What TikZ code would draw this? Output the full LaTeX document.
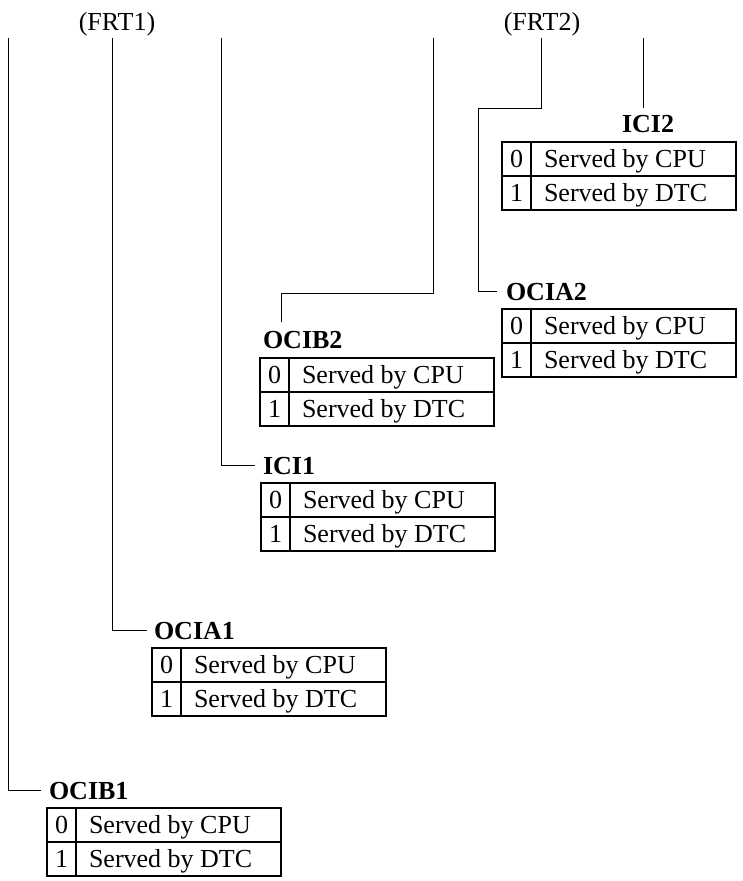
\documentclass[tikz,border=0pt]{standalone}
\usepackage{fontspec}
\setmainfont{Liberation Serif}
\newcommand\bigfont{\fontsize{26}{30}\selectfont}
\newcommand\srvtab[3]{%
  \node[tabbox] (#1) at (#2,#3) {};
  \draw[tabline] ([xshift=29pt]#1.north west) -- ([xshift=29pt]#1.south west);
  \draw[tabline] (#1.west) -- (#1.east);
  \node[cell, anchor=base] (#1d0) at ([xshift=14.5pt,yshift=-25pt]#1.north west) {0};
  \node[cell, anchor=base] (#1d1) at ([xshift=14.5pt,yshift=-59pt]#1.north west) {1};
  \node[cell, anchor=base west] (#1s0) at ([xshift=42pt,yshift=-25pt]#1.north west) {Served by CPU};
  \node[cell, anchor=base west] (#1s1) at ([xshift=42pt,yshift=-59pt]#1.north west) {Served by DTC};
}
\tikzset{
  tabbox/.style={draw, line width=1.1pt, minimum width=234pt, minimum height=68pt,
    anchor=north west, inner sep=0pt, outer sep=0pt},
  tabline/.style={line width=1.1pt},
  cell/.style={inner sep=0pt, outer sep=0pt, font=\bigfont},
  lbl/.style={inner sep=0pt, outer sep=0pt, font=\bigfont\bfseries, anchor=base west},
  frt/.style={inner sep=0pt, outer sep=0pt, font=\bigfont, anchor=base},
  conn/.style={line width=0.9pt}
}
\begin{document}
\begin{tikzpicture}[x=1pt,y=-1pt]
\useasboundingbox (0,0) rectangle (743,881);

% top labels
\node[frt] (frt1) at (117,30) {(FRT1)};
\node[frt] (frt2) at (542,30) {(FRT2)};

% line tops
\coordinate (tA) at (8,38);
\coordinate (tB) at (112,38);
\coordinate (tC) at (221,38);
\coordinate (tD) at (433,38);
\coordinate (tE) at (541,38);
\coordinate (tF) at (643,38);

% tables
\srvtab{ICItwo}{502}{142}
\srvtab{OCIAtwo}{502}{309}
\srvtab{OCIBtwo}{260}{358}
\srvtab{ICIone}{261}{483}
\srvtab{OCIAone}{152}{648}
\srvtab{OCIBone}{47}{808}

% labels
\node[frt, font=\bigfont\bfseries] (lICItwo) at (648,132) {ICI2};
\node[lbl] (lOCIAtwo) at (506,300) {OCIA2};
\node[lbl] (lOCIBtwo) at (263,348) {OCIB2};
\node[lbl] (lICIone) at (263,474) {ICI1};
\node[lbl] (lOCIAone) at (154,639) {OCIA1};
\node[lbl] (lOCIBone) at (49,799) {OCIB1};

% connectors
\coordinate (jD) at (281,293);
\coordinate (eD) at (281,322);
\coordinate (jE) at (478,108);
\coordinate (eF) at (643,108);

\draw[conn] (tA) |- ([xshift=-8pt]lOCIBone.west);
\draw[conn] (tB) |- ([xshift=-7pt]lOCIAone.west);
\draw[conn] (tC) |- ([xshift=-8pt]lICIone.west);
\draw[conn] (tD) |- (jD) -- (eD);
\draw[conn] (tE) |- (jE) |- ([xshift=-9pt]lOCIAtwo.west);
\draw[conn] (tF) -- (eF);
\end{tikzpicture}
\end{document}
